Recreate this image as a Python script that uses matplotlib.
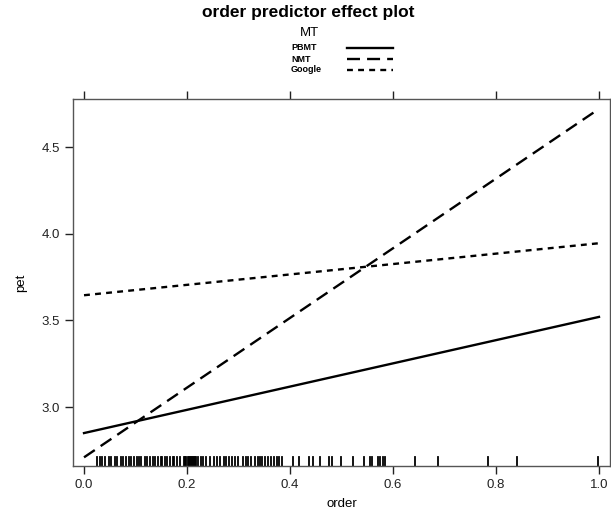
import matplotlib
matplotlib.use("Agg")
import matplotlib.pyplot as plt
from matplotlib.lines import Line2D

plt.rcParams["font.family"] = ["Liberation Sans", "DejaVu Sans"]

# Data
series = ["PBMT", "NMT", "Google"]
order_range = [0.0, 1.0]
pet_pbmt = [2.85, 3.52]
pet_nmt = [2.71, 4.72]
pet_google = [3.645, 3.945]
x_ticks = [0.0, 0.2, 0.4, 0.6, 0.8, 1.0]
x_ticklabels = ["0.0", "0.2", "0.4", "0.6", "0.8", "1.0"]
y_ticks = [3.0, 3.5, 4.0, 4.5]
y_ticklabels = ["3.0", "3.5", "4.0", "4.5"]
rug = [0.025, 0.031, 0.035, 0.040, 0.049, 0.053, 0.060, 0.064, 0.071, 0.076,
       0.081, 0.087, 0.092, 0.097, 0.102, 0.107, 0.111,
       0.118, 0.123, 0.128, 0.133, 0.137, 0.144, 0.149, 0.152, 0.157, 0.161,
       0.167, 0.172, 0.175, 0.181, 0.186, 0.194, 0.197, 0.199, 0.201, 0.203,
       0.205, 0.207, 0.209, 0.212, 0.214, 0.216, 0.218,
       0.222, 0.227, 0.232, 0.236, 0.245, 0.252, 0.258, 0.264, 0.271, 0.275,
       0.281, 0.287, 0.294, 0.299, 0.309, 0.314, 0.319, 0.324, 0.332, 0.337,
       0.342, 0.346, 0.351, 0.358, 0.363, 0.368, 0.374, 0.379, 0.384,
       0.406, 0.418, 0.437, 0.444, 0.458, 0.476, 0.481, 0.500, 0.523, 0.544,
       0.555, 0.559, 0.571, 0.575, 0.580, 0.584,
       0.643, 0.688, 0.785, 0.840, 0.999]

W, H = 611, 515
fig = plt.figure(figsize=(W / 100, H / 100), dpi=100)
ax = fig.add_axes([73 / W, 1 - 466 / H, (610 - 73) / W, (466 - 99) / H])

styles = {
    "PBMT": dict(linestyle="-"),
    "NMT": dict(linestyle=(0, (5.5, 3))),
    "Google": dict(linestyle=(0, (2.5, 2.2))),
}
vals = {"PBMT": pet_pbmt, "NMT": pet_nmt, "Google": pet_google}
for s in series:
    ax.plot(order_range, vals[s], color="black", lw=1.7, **styles[s])

ax.set_xlim(-0.0214, 1.0214)
ax.set_ylim(2.66, 4.777)

# rug
for xr in rug:
    ax.plot([xr, xr], [0.0, 0.024], color="black", lw=1.3,
            transform=ax.get_xaxis_transform())

ax.set_xticks(x_ticks)
ax.set_xticklabels(x_ticklabels)
ax.set_yticks(y_ticks)
ax.set_yticklabels(y_ticklabels)
ax.tick_params(axis="both", direction="out", length=6, width=1, colors="#222222",
               labelsize=9.5, top=True, right=True, labeltop=False, labelright=False)
for sp in ax.spines.values():
    sp.set_color("#555555")
    sp.set_linewidth(1.0)

ax.set_xlabel("order", fontsize=9.5, labelpad=5)
ax.set_ylabel("pet", fontsize=9.5, labelpad=10)

fig.text(308 / W, 1 - 13 / H, "order predictor effect plot", ha="center", va="center",
         fontsize=12.5, fontweight="bold")
fig.text(309 / W, 1 - 33 / H, "MT", ha="center", va="center", fontsize=9.5)

leg_y = [48, 59, 70]
for s, yy in zip(series, leg_y):
    fig.text(291 / W, 1 - yy / H, s, ha="left", va="center", fontsize=6.5,
             fontweight="bold")
    fig.add_artist(Line2D([347 / W, 393 / W], [1 - yy / H, 1 - yy / H],
                          transform=fig.transFigure, color="black", lw=1.7,
                          **styles[s]))

fig.savefig("out.png", dpi=100)
